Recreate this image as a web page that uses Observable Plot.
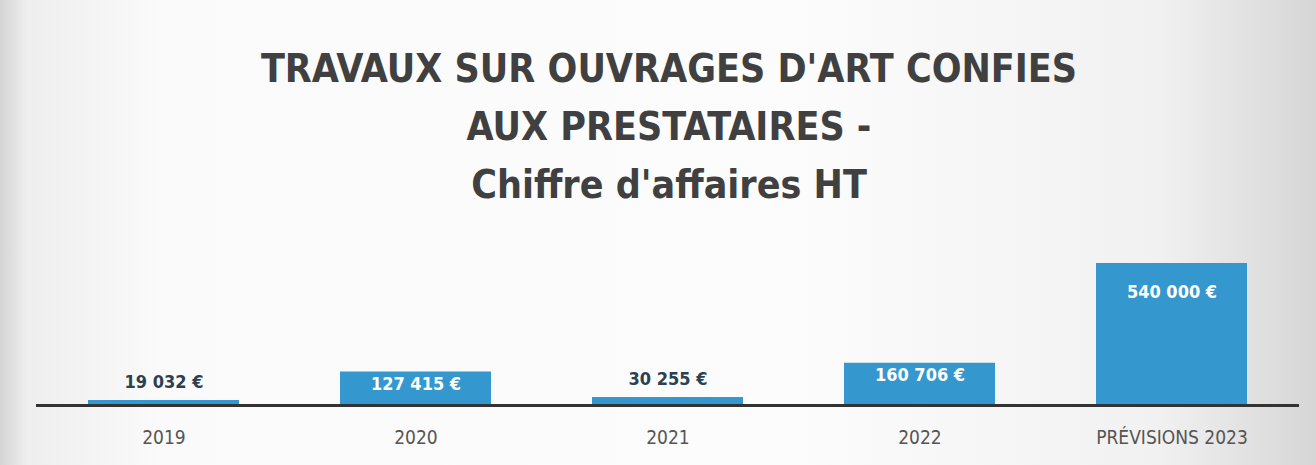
<!DOCTYPE html>
<html>
<head>
<meta charset="utf-8">
<script src="https://cdn.jsdelivr.net/npm/d3@7"></script>
<script src="https://cdn.jsdelivr.net/npm/@observablehq/plot@0.6"></script>
<style>
  html, body { margin: 0; padding: 0; }
  body {
    width: 1316px; height: 465px; overflow: hidden;
    background: linear-gradient(to right, #d4d4d4 0%, #eeeeee 2%, #fafafa 12%, #fcfcfc 60%, #f1f1f1 88%, #d6d6d6 100%);
    font-family: "DejaVu Sans Condensed", "Liberation Sans Narrow", sans-serif;
  }
  #title {
    height: 220px; box-sizing: border-box; padding-top: 40px;
    text-align: center; color: #404040; font-weight: bold;
    font-size: 39px; line-height: 58px; padding-left: 22px;
  }
  #chart svg { display: block; }
</style>
</head>
<body>
<div id="title">TRAVAUX SUR OUVRAGES D'ART CONFIES<br>AUX PRESTATAIRES -<br>Chiffre d'affaires HT</div>
<div id="chart"></div>
<script>
const categories = ["2019", "2020", "2021", "2022", "PRÉVISIONS 2023"];
const values = [19032, 127415, 30255, 160706, 540000];

const data = categories.map((c, i) => ({category: c, value: values[i]}));
const fr = d3.formatLocale({decimal: ",", thousands: "\u00a0", grouping: [3], currency: ["", "\u00a0€"]});
const fmt = v => fr.format(",")(v) + "\u00a0€";
const maxV = d3.max(values);

const chart = Plot.plot({
  width: 1316,
  height: 245,
  marginTop: 43,
  marginBottom: 60,
  marginLeft: 36,
  marginRight: 17,
  style: {fontFamily: '"DejaVu Sans Condensed", "Liberation Sans Narrow", sans-serif', background: "transparent"},
  x: {domain: categories, paddingInner: 0.4, paddingOuter: 0.2, label: null},
  y: {domain: [0, maxV], axis: null},
  marks: [
    Plot.barY(data, {x: "category", y: "value", fill: "#3497cd"}),
    Plot.ruleY([0], {stroke: "#333333", strokeWidth: 3}),
    Plot.axisX({tickSize: 0, tickPadding: 25, fontSize: 19, fill: "#555555", label: null}),
    Plot.text(data.filter(d => d.value < 100000), {x: "category", y: "value", text: d => fmt(d.value), dy: -18, fill: "#2b4050", fontSize: 18, fontWeight: "bold"}),
    Plot.text(data.filter(d => d.value >= 100000 && d.value < 300000), {x: "category", y: "value", text: d => fmt(d.value), dy: 12, fill: "white", fontSize: 18, fontWeight: "bold"}),
    Plot.text(data.filter(d => d.value >= 300000), {x: "category", y: "value", text: d => fmt(d.value), dy: 29, fill: "white", fontSize: 18, fontWeight: "bold"})
  ]
});
document.getElementById("chart").appendChild(chart);
</script>
</body>
</html>
